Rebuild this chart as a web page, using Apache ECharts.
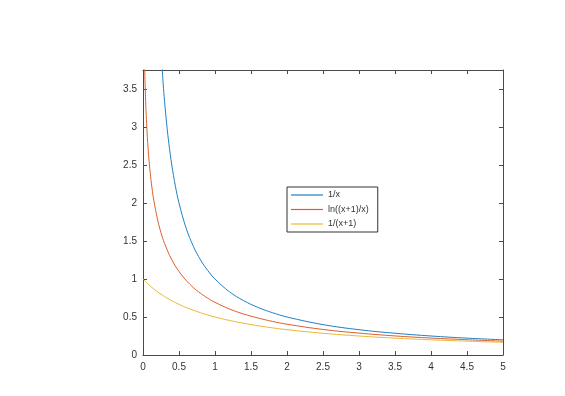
<!DOCTYPE html>
<html>
<head>
<meta charset="utf-8">
<script src="https://cdn.jsdelivr.net/npm/echarts@6/dist/echarts.min.js"></script>
<style>
html,body{margin:0;padding:0;background:#fff;}
#chart{width:565px;height:396px;}
</style>
</head>
<body>
<div id="chart"></div>
<script>
// Values
var seriesNames = ['1/x', 'ln((x+1)/x)', '1/(x+1)'];
var xInv = [0.25, 0.28, 0.3, 0.33, 0.36, 0.4, 0.45, 0.5, 0.6, 0.7, 0.8, 0.9, 1.0, 1.2, 1.4, 1.6, 1.8, 2.0, 2.5, 3.0, 3.5, 4.0, 4.5, 5.0];
var yInv = [4.0, 3.571, 3.333, 3.030, 2.778, 2.5, 2.222, 2.0, 1.667, 1.429, 1.25, 1.111, 1.0, 0.833, 0.714, 0.625, 0.556, 0.5, 0.4, 0.333, 0.286, 0.25, 0.222, 0.2];
var xLn = [0.02, 0.025, 0.03, 0.04, 0.05, 0.065, 0.08, 0.1, 0.125, 0.15, 0.2, 0.25, 0.3, 0.4, 0.5, 0.6, 0.7, 0.8, 0.9, 1.0, 1.2, 1.4, 1.6, 1.8, 2.0, 2.5, 3.0, 3.5, 4.0, 4.5, 5.0];
var yLn = [3.932, 3.714, 3.536, 3.258, 3.045, 2.798, 2.603, 2.398, 2.197, 2.037, 1.792, 1.609, 1.466, 1.253, 1.099, 0.981, 0.887, 0.811, 0.747, 0.693, 0.606, 0.539, 0.486, 0.442, 0.405, 0.336, 0.288, 0.251, 0.223, 0.201, 0.182];
var xRec = [0, 0.1, 0.2, 0.3, 0.4, 0.5, 0.6, 0.8, 1.0, 1.2, 1.4, 1.6, 1.8, 2.0, 2.5, 3.0, 3.5, 4.0, 4.5, 5.0];
var yRec = [1.0, 0.909, 0.833, 0.769, 0.714, 0.667, 0.625, 0.556, 0.5, 0.455, 0.417, 0.385, 0.357, 0.333, 0.286, 0.25, 0.222, 0.2, 0.182, 0.167];
var colors = ['#1f80c4', '#dc5f2c', '#edb73a'];

function pairs(xs, ys) { return xs.map(function (x, i) { return [x, ys[i]]; }); }

var axisColor = '#4a4a4a';
var font = 'Liberation Sans, Arial, sans-serif';
function xAx(pos, labels) {
  return {
    type: 'value', position: pos, min: 0, max: 5, interval: 0.5,
    axisLine: { show: true, onZero: false, lineStyle: { color: axisColor, width: 1 } },
    axisTick: { show: true, inside: true, length: 4, lineStyle: { color: axisColor } },
    axisLabel: { show: labels, color: '#333', fontSize: 10, fontFamily: font, margin: 7,
      formatter: function (v) { return String(+v.toFixed(2)); } },
    splitLine: { show: false }
  };
}
function yAx(pos, labels) {
  return {
    type: 'value', position: pos, min: 0, max: 3.75, interval: 0.5,
    axisLine: { show: true, onZero: false, lineStyle: { color: axisColor, width: 1 } },
    axisTick: { show: true, inside: true, length: 4, lineStyle: { color: axisColor } },
    axisLabel: { show: labels, color: '#333', fontSize: 10, fontFamily: font, margin: 6, showMaxLabel: false,
      formatter: function (v) { return String(+v.toFixed(2)); } },
    splitLine: { show: false }
  };
}

function mkSeries(i, xs, ys) {
  return { name: seriesNames[i], type: 'line', data: pairs(xs, ys), symbol: 'none', showSymbol: false, smooth: 0.4,
    lineStyle: { color: colors[i], width: 1 }, itemStyle: { color: colors[i] }, clip: true };
}

var chart = echarts.init(document.getElementById('chart'), null, { renderer: 'canvas' });
chart.setOption({
  animation: false,
  backgroundColor: '#fff',
  grid: { left: 143, right: 62, top: 70, bottom: 41, containLabel: false },
  xAxis: [xAx('bottom', true), xAx('top', false)],
  yAxis: [yAx('left', true), yAx('right', false)],
  legend: {
    show: true, orient: 'vertical', left: 287, top: 187,
    padding: [2, 9, 2, 4], icon: 'rect', itemWidth: 32, itemHeight: 1.2, itemGap: 2.5, itemTextGap: 3,
    borderColor: '#333', borderWidth: 1, backgroundColor: '#fff',
    textStyle: { fontSize: 9, color: '#333', fontFamily: font, lineHeight: 12 },
    data: seriesNames
  },
  series: [mkSeries(0, xInv, yInv), mkSeries(1, xLn, yLn), mkSeries(2, xRec, yRec)]
});
</script>
</body>
</html>
